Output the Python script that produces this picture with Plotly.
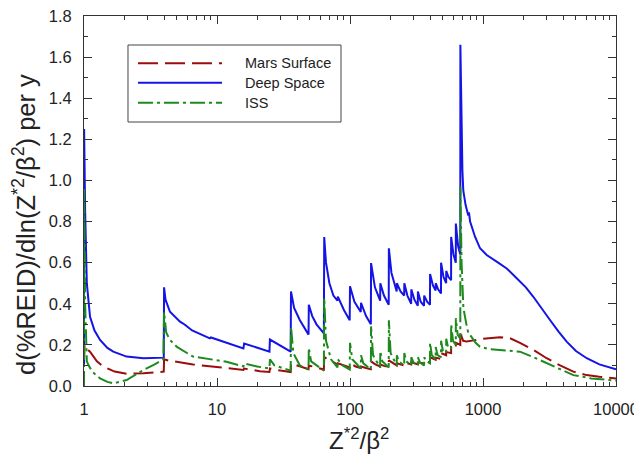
import plotly.graph_objects as go

# ---- Deep Space ----
x_deep = [1.0, 1.002, 1.02, 1.05, 1.11, 1.2, 1.32, 1.5, 1.66, 2.09, 2.8, 3.5, 3.98,
          4.0, 4.1, 4.43, 5.27, 5.74, 5.8, 6.5, 8.84, 9.0, 12, 15.8, 16, 20, 24.8,
          25, 30, 35.8,
          36, 38, 42, 48.8,
          49, 52, 56, 63.6,
          64, 66, 70, 75, 80.5,
          81, 90, 99.5,
          100, 108, 120.5,
          121, 132, 143.5,
          144, 154, 168.5,
          169, 180, 195.5,
          196, 205, 224.5,
          225, 240, 255.5,
          256, 270, 288.5,
          289, 305, 323.5,
          324, 340, 360.5,
          361, 380, 399.5,
          400, 420, 440.5,
          441, 460, 483.5,
          484, 505, 528.5,
          529, 550, 575.5,
          576, 600, 624.5,
          625, 650, 675,
          676, 685, 700, 711, 740, 775, 784, 800, 871, 950, 1066, 1300, 1507,
          1792, 2100, 2390, 2800, 3190, 3700, 4256, 5000, 6025, 7500, 10000]
y_deep = [0.10, 1.25, 0.85, 0.50, 0.337, 0.27, 0.224, 0.185, 0.167, 0.143, 0.135, 0.135, 0.138,
          0.48, 0.42, 0.361, 0.313, 0.298, 0.295, 0.27, 0.232, 0.236, 0.21, 0.183, 0.207, 0.186, 0.167,
          0.226, 0.195, 0.167,
          0.46, 0.38, 0.32, 0.25,
          0.395, 0.34, 0.30, 0.256,
          0.725, 0.60, 0.50, 0.44, 0.415,
          0.435, 0.37, 0.32,
          0.485, 0.41, 0.36,
          0.405, 0.34, 0.30,
          0.598, 0.48, 0.415,
          0.50, 0.44, 0.395,
          0.67, 0.55, 0.46,
          0.50, 0.46, 0.44,
          0.50, 0.44, 0.40,
          0.47, 0.42, 0.39,
          0.46, 0.41, 0.39,
          0.44, 0.41, 0.395,
          0.545, 0.49, 0.465,
          0.50, 0.47, 0.45,
          0.60, 0.53, 0.50,
          0.56, 0.53, 0.515,
          0.725, 0.64, 0.60,
          0.79, 0.68, 0.64,
          1.66, 1.30, 1.05, 0.95, 0.88, 0.83, 0.845, 0.80, 0.726, 0.67, 0.637, 0.60, 0.572,
          0.524, 0.48, 0.434, 0.37, 0.321, 0.265, 0.216, 0.17, 0.135, 0.105, 0.081]

# ---- Mars Surface ----
x_mars = [1.0, 1.01, 1.05, 1.11, 1.25, 1.4, 1.7, 2.09, 2.8, 3.72, 3.98,
          4.0, 4.3, 6.6, 11.8, 15.8, 16, 21, 24.8, 25, 30, 35.8, 36, 42, 48.8, 49, 56, 63.6,
          64, 72, 80.5, 81, 90, 99.5, 100, 110, 120.5, 121, 132, 143.5, 144, 155, 168.5,
          169, 180, 195.5, 196, 210, 224.5, 225, 255.5, 256, 288.5, 289, 323.5, 324, 360.5,
          361, 399.5, 400, 440.5, 441, 483.5, 484, 528.5, 529, 575.5, 576, 624.5, 625, 675,
          676, 690, 710, 754, 850, 1000, 1343, 1600, 1897, 2400, 3012, 3800, 4776, 6000,
          7500, 10000]
y_mars = [0.10, 0.20, 0.18, 0.167, 0.12, 0.094, 0.07, 0.06, 0.062, 0.068, 0.07,
          0.13, 0.124, 0.105, 0.088, 0.078, 0.085, 0.072, 0.068, 0.085, 0.075, 0.068, 0.11, 0.095, 0.082, 0.10, 0.09, 0.08,
          0.14, 0.12, 0.105, 0.11, 0.10, 0.09, 0.11, 0.095, 0.088, 0.095, 0.088, 0.082, 0.12, 0.105, 0.095,
          0.105, 0.098, 0.092, 0.125, 0.11, 0.10, 0.11, 0.10, 0.115, 0.105, 0.115, 0.105, 0.115, 0.11,
          0.12, 0.115, 0.14, 0.128, 0.138, 0.132, 0.16, 0.15, 0.165, 0.16, 0.19, 0.18, 0.21, 0.20,
          0.27, 0.24, 0.22, 0.216, 0.222, 0.23, 0.237, 0.232, 0.21, 0.175, 0.135, 0.10, 0.07, 0.053,
          0.045, 0.037]

# ---- ISS ----
x_iss = [1.0, 1.002, 1.02, 1.05, 1.08, 1.15, 1.32, 1.5, 1.66, 2.09, 2.8, 3.4, 3.95,
         4.0, 4.15, 4.43, 5.0, 6.6, 11.8, 15.8, 16, 20, 24.8, 25, 27, 35.8,
         36, 37.5, 42, 48.8, 49, 51, 63.6, 64, 66, 72, 80.5, 81, 88, 99.5,
         100, 104, 120.5, 121, 126, 143.5, 144, 149, 168.5, 169, 175, 195.5,
         196, 202, 224.5, 225, 232, 255.5, 256, 265, 288.5, 289, 300, 323.5,
         324, 335, 360.5, 361, 375, 399.5, 400, 412, 440.5, 441, 455, 483.5,
         484, 500, 528.5, 529, 545, 575.5, 576, 595, 624.5, 625, 645, 675,
         676, 690, 712, 735, 760, 784, 800, 880, 950, 1100, 1343, 1897, 2400,
         3012, 3800, 4776, 6500, 10000]
y_iss = [0.0, 0.96, 0.40, 0.12, 0.102, 0.07, 0.037, 0.02, 0.013, 0.029, 0.078, 0.105, 0.13,
         0.36, 0.26, 0.224, 0.19, 0.143, 0.118, 0.095, 0.11, 0.095, 0.085, 0.13, 0.10, 0.075,
         0.29, 0.16, 0.10, 0.08, 0.185, 0.12, 0.075, 0.43, 0.22, 0.13, 0.09, 0.13, 0.10, 0.08,
         0.21, 0.13, 0.085, 0.15, 0.11, 0.08, 0.29, 0.15, 0.09, 0.17, 0.12, 0.09,
         0.32, 0.16, 0.10, 0.15, 0.12, 0.10, 0.16, 0.12, 0.10, 0.14, 0.115, 0.10,
         0.14, 0.115, 0.10, 0.14, 0.12, 0.11, 0.21, 0.15, 0.13, 0.19, 0.15, 0.14,
         0.22, 0.17, 0.16, 0.23, 0.19, 0.18, 0.30, 0.22, 0.20, 0.33, 0.25, 0.23,
         0.97, 0.60, 0.38, 0.32, 0.28, 0.25, 0.248, 0.21, 0.191, 0.18, 0.175, 0.167, 0.14,
         0.11, 0.08, 0.053, 0.037, 0.026]

series_names = ["Mars Surface", "Deep Space", "ISS"]
series_colors = ["#9b0d0d", "#1414e6", "#1d8a1d"]
series_dash = ["20px,7px", "solid", "15px,4px,3px,4px"]

x_tick_vals = [1, 10, 100, 1000, 10000]
x_tick_text = ["1", "10", "100", "1000", "10000"]
x_minor_vals = [m * 10 ** d for d in range(4) for m in range(2, 10)]

x_title = "Z<sup>*2</sup>/β<sup>2</sup>"
y_title = "d(%REID)/dln(Z<sup>*2</sup>/β<sup>2</sup>) per y"

FONT = "Liberation Sans, Arial, sans-serif"
AX = "#333333"
TXT = "#222222"

fig = go.Figure()
for xs, ys, nm, col, ds in zip([x_mars, x_deep, x_iss], [y_mars, y_deep, y_iss],
                               series_names, series_colors, series_dash):
    fig.add_trace(go.Scatter(x=xs, y=ys, mode="lines", name=nm, showlegend=False,
                             line=dict(color=col, width=2, dash=ds)))

# legend box drawn as in the reference (long line samples)
shapes = [dict(type="rect", xref="paper", yref="paper", x0=0.0827, x1=0.4831,
               y0=0.7135, y1=0.9216, line=dict(color="#444444", width=1),
               fillcolor="rgba(0,0,0,0)", layer="above")]
annotations = []
row_y = [0.8722, 0.8197, 0.7657]
for ry, nm, col, ds in zip(row_y, series_names, series_colors, series_dash):
    shapes.append(dict(type="line", xref="paper", yref="paper", x0=0.1015, x1=0.2594,
                       y0=ry, y1=ry, line=dict(color=col, width=2, dash=ds)))
    annotations.append(dict(xref="paper", yref="paper", x=0.2989, y=ry, text=nm,
                            showarrow=False, xanchor="left", yanchor="middle",
                            font=dict(family=FONT, size=14.5, color=TXT)))

# axis titles
annotations.append(dict(xref="paper", yref="paper", x=0.517, y=-0.143, text=x_title,
                        showarrow=False, xanchor="center", yanchor="middle",
                        font=dict(family=FONT, size=24, color=TXT)))
annotations.append(dict(xref="paper", yref="paper", x=-0.1128, y=0.438, text=y_title,
                        textangle=-90, showarrow=False, xanchor="center", yanchor="middle",
                        font=dict(family=FONT, size=25.5, color=TXT)))

fig.update_layout(
    width=634, height=451,
    margin=dict(l=76, r=26, t=8, b=73),
    paper_bgcolor="white", plot_bgcolor="white",
    font=dict(family=FONT, size=16.5, color=TXT),
    showlegend=False,
    shapes=shapes, annotations=annotations,
)
fig.update_xaxes(
    type="log", range=[0, 4], automargin=False, ticklabeloverflow="allow",
    tickmode="array", tickvals=x_tick_vals, ticktext=x_tick_text,
    ticks="inside", ticklen=8, tickwidth=1, tickcolor=AX,
    minor=dict(tickmode="array", tickvals=x_minor_vals, ticks="inside",
               ticklen=4, tickwidth=1, tickcolor=AX, showgrid=False),
    showline=True, linecolor=AX, linewidth=1, mirror="ticks",
    showgrid=False, zeroline=False, ticklabelstandoff=8,
)
fig.update_yaxes(
    range=[0, 1.8], tickmode="linear", tick0=0, dtick=0.2, tickformat=".1f",
    automargin=False, ticklabeloverflow="allow",
    ticks="inside", ticklen=8, tickwidth=1, tickcolor=AX,
    minor=dict(dtick=0.1, ticks="inside", ticklen=4, tickwidth=1, tickcolor=AX, showgrid=False),
    showline=True, linecolor=AX, linewidth=1, mirror="ticks",
    showgrid=False, zeroline=False, ticklabelstandoff=8,
)

fig.write_html("out.html")
